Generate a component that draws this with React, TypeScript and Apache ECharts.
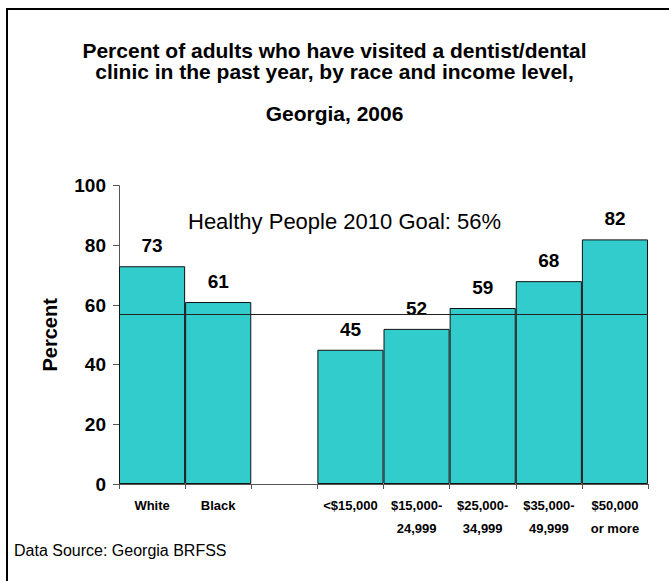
import React, { useEffect, useRef } from "react";
import * as echarts from "echarts";

const categories = ["White", "Black", "", "<$15,000", "$15,000-\n24,999", "$25,000-\n34,999", "$35,000-\n49,999", "$50,000\nor more"];
const values: (number | string)[] = [73, 61, "-", 45, 52, 59, 68, 82];
const goalLineValue = 57;
const goalText = "Healthy People 2010 Goal: 56%";
const yTicks = { min: 0, max: 100, interval: 20 };
const titleLines = ["Percent of adults who have visited a dentist/dental", "clinic in the past year, by race and income level,"];
const subTitle = "Georgia, 2006";
const sourceText = "Data Source: Georgia BRFSS";

const FONT = "'Liberation Sans', Arial, sans-serif";

export default function App() {
  const ref = useRef<HTMLDivElement>(null);
  useEffect(() => {
    document.body.style.margin = "0";
    const chart = echarts.init(ref.current!, null, { renderer: "svg" });
    chart.setOption({
      animation: false,
      backgroundColor: "#ffffff",
      textStyle: { fontFamily: FONT },
      title: [
        {
          text: titleLines.join("\n"),
          left: "center",
          top: 40,
          padding: 0,
          textStyle: { fontSize: 21, fontWeight: "bold", color: "#000", lineHeight: 21, fontFamily: FONT },
        },
        {
          text: subTitle,
          left: "center",
          top: 103,
          padding: 0,
          textStyle: { fontSize: 21, fontWeight: "bold", color: "#000", lineHeight: 21, fontFamily: FONT },
        },
      ],
      grid: { left: 119, right: 21, top: 185.7, bottom: 97, containLabel: false },
      xAxis: {
        type: "category",
        data: categories,
        axisLine: { lineStyle: { color: "#555", width: 1 } },
        axisTick: { show: true, length: 5, lineStyle: { color: "#555" } },
        axisLabel: {
          interval: 0,
          color: "#000",
          fontWeight: "bold",
          fontSize: 13,
          lineHeight: 23,
          margin: 10,
          fontFamily: FONT,
        },
      },
      yAxis: {
        type: "value",
        min: yTicks.min,
        max: yTicks.max,
        interval: yTicks.interval,
        name: "Percent",
        nameLocation: "middle",
        nameGap: 59,
        nameTextStyle: { fontSize: 20, fontWeight: "bold", color: "#000", fontFamily: FONT },
        axisLine: { show: true, lineStyle: { color: "#555", width: 1 } },
        axisTick: { show: true, length: 6, lineStyle: { color: "#555" } },
        axisLabel: { color: "#000", fontWeight: "bold", fontSize: 19, margin: 13, fontFamily: FONT },
        splitLine: { show: false },
      },
      series: [
        {
          type: "bar",
          data: values,
          barCategoryGap: 0,
          itemStyle: { color: "#33CCCC", borderColor: "#111", borderWidth: 1 },
          label: {
            show: true,
            position: "top",
            distance: 11,
            color: "#000",
            fontWeight: "bold",
            fontSize: 19,
            fontFamily: FONT,
          },
          markLine: {
            silent: true,
            symbol: "none",
            label: { show: false },
            lineStyle: { color: "#222", type: "solid", width: 1 },
            data: [{ yAxis: goalLineValue }],
          },
        },
      ],
      graphic: [
        {
          type: "rect",
          shape: { x: 7, y: 9, width: 700, height: 620 },
          style: { fill: "none", stroke: "#000", lineWidth: 2 },
          silent: true,
        },
        {
          type: "text",
          left: 188,
          top: 210,
          style: { text: goalText, fontSize: 22, fill: "#000", fontFamily: FONT },
        },
        {
          type: "text",
          left: 14,
          top: 542,
          style: { text: sourceText, fontSize: 16, fill: "#000", fontFamily: FONT },
        },
      ],
    });
    return () => chart.dispose();
  }, []);
  return <div ref={ref} style={{ width: 669, height: 581 }} />;
}
